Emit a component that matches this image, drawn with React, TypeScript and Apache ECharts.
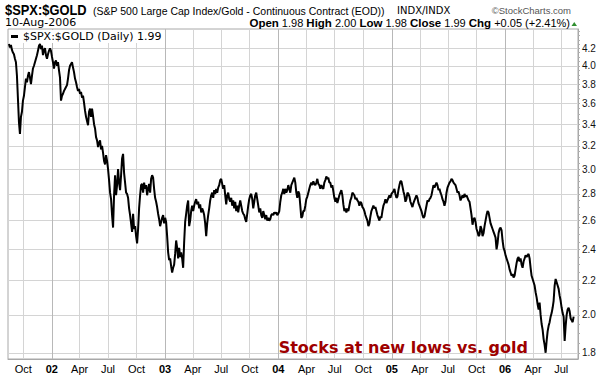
import React, { useEffect, useRef } from "react";
import * as echarts from "echarts";

const SYMBOL = "$SPX:$GOLD";
const TITLE_DESC = "(S&P 500 Large Cap Index/Gold - Continuous Contract (EOD))";
const EXCHANGE = "INDX/INDX";
const AS_OF = "10-Aug-2006";
const QUOTE_KEYS = ["Open", "High", "Low", "Close", "Chg"];
const QUOTE_VALUES = ["1.98", "2.00", "1.98", "1.99", "+0.05 (+2.41%)"];
const ANNOTATION = "Stocks at new lows vs. gold";

// Daily ratio sampled evenly from START_DATE to END_DATE
const START_DATE = "2001-08-16";
const END_DATE = "2006-08-10";
const VALUES_2001_2003 = [
  4.25,4.21,4.24,4.18,4.15,4.13,4.08,4.04,3.89,3.65,
  3.42,3.31,3.47,3.52,3.63,3.68,3.77,3.86,3.82,3.89,
  3.93,3.87,3.80,3.89,3.97,4.00,4.04,4.08,4.12,4.17,
  4.23,4.25,4.19,4.23,4.12,4.18,4.20,4.12,4.08,4.13,
  4.17,4.20,4.17,4.10,4.04,3.97,4.04,4.06,4.00,4.04,
  3.95,3.87,3.63,3.68,3.70,3.73,3.75,3.77,3.79,3.86,
  3.95,4.00,4.02,4.04,3.98,3.93,3.86,3.82,3.77,3.73,
  3.75,3.70,3.72,3.66,3.68,3.61,3.53,3.47,3.43,3.39,
  3.52,3.55,3.47,3.55,3.48,3.40,3.36,3.28,3.25,3.19,
  3.23,3.25,3.17,3.20,3.14,3.07,3.04,3.12,3.07,3.00,
  2.91,2.81,2.76,2.64,2.55,2.79,2.95,2.79,2.87,3.00,
  2.89,2.83,2.95,3.09,3.13,2.97,2.89,2.81,2.80,2.77,
  2.69,2.64,2.58,2.52,2.65,2.54,2.56,2.49,2.44,2.54,
  2.69,2.79,2.87,2.88,2.81,2.89,2.84,2.87,2.79,2.84,
  2.88,2.81,2.92,2.95,2.93,2.84,2.77,2.74,2.70,2.65,
  2.61,2.56,2.59,2.62,2.64,2.58,2.62,2.59,2.49,2.38,
  2.33,2.34,2.29,2.25,2.28,2.30,2.37,2.46,2.41,2.34,
  2.41,2.35,2.38,2.34,2.28,2.45,2.59,2.65,2.71,2.75,
  2.56,2.60,2.67,2.71,2.67,2.71,2.74,2.76,2.72,2.74,
  2.69,2.72,2.66,2.69,2.67,2.64,2.58,2.49,2.58,2.64,
  2.69,2.75,2.79,2.81,2.77,2.83,2.80,2.84,2.81,2.85,
  2.87,2.91,2.92,2.88,2.84,2.87,2.79,2.72,2.79,2.81,
  2.76,2.74,2.77,2.71,2.75,2.69,2.74,2.67,2.71,2.66,
  2.71,2.75,2.71,2.67,2.65,2.64,2.61,2.59,2.65,2.71,
  2.76,2.79,2.80,2.76,2.69,2.74,2.79,2.81,2.76,2.71,
  2.66,2.69,2.64,2.62,2.67,2.64,2.61,2.64,2.60,2.62,
  2.60,2.61,2.64,2.65,2.64,2.66,2.65,2.66,2.64,2.65,
  2.67,2.74,2.79,2.81,2.84,2.80,2.84,2.81,2.83,2.87,
  2.84,2.81,2.87,2.89,2.91,2.93,2.89,2.81,2.77,
];
const VALUES_2004_2006 = [
  2.82,2.80,2.71,2.62,2.63,2.67,2.67,2.71,2.76,2.78,
  2.81,2.84,2.87,2.89,2.87,2.90,2.88,2.87,2.89,2.92,
  2.88,2.87,2.84,2.87,2.85,2.84,2.89,2.91,2.94,2.92,
  2.93,2.89,2.89,2.85,2.87,2.82,2.77,2.74,2.77,2.73,
  2.76,2.79,2.81,2.83,2.79,2.72,2.67,2.69,2.66,2.69,
  2.67,2.71,2.75,2.77,2.81,2.80,2.79,2.76,2.77,2.75,
  2.74,2.71,2.74,2.73,2.70,2.69,2.67,2.64,2.62,2.60,
  2.56,2.58,2.63,2.67,2.69,2.71,2.69,2.70,2.67,2.64,
  2.62,2.60,2.63,2.62,2.67,2.71,2.73,2.76,2.73,2.75,
  2.77,2.79,2.77,2.80,2.81,2.82,2.84,2.80,2.77,2.78,
  2.83,2.87,2.90,2.90,2.86,2.82,2.79,2.74,2.76,2.81,
  2.80,2.78,2.74,2.72,2.70,2.73,2.75,2.77,2.79,2.77,
  2.73,2.71,2.69,2.67,2.64,2.62,2.63,2.67,2.71,2.75,
  2.74,2.76,2.77,2.79,2.83,2.87,2.85,2.87,2.89,2.87,
  2.83,2.84,2.81,2.79,2.76,2.74,2.71,2.74,2.81,2.85,
  2.87,2.89,2.90,2.92,2.91,2.89,2.88,2.87,2.84,2.81,
  2.82,2.79,2.75,2.77,2.79,2.77,2.80,2.78,2.79,2.77,
  2.75,2.74,2.69,2.64,2.57,2.61,2.62,2.59,2.54,2.52,
  2.49,2.50,2.56,2.54,2.49,2.51,2.56,2.60,2.64,2.67,
  2.66,2.62,2.58,2.56,2.54,2.52,2.50,2.48,2.40,2.44,
  2.51,2.54,2.55,2.53,2.46,2.41,2.39,2.36,2.34,2.32,
  2.30,2.27,2.25,2.23,2.24,2.22,2.23,2.27,2.31,2.34,
  2.35,2.32,2.34,2.30,2.28,2.32,2.34,2.36,2.35,2.36,
  2.37,2.34,2.28,2.23,2.21,2.19,2.17,2.13,2.10,2.06,
  2.03,2.07,2.00,1.95,1.92,1.87,1.84,1.80,1.86,1.91,
  1.94,1.96,1.99,2.01,2.04,2.08,2.17,2.21,2.19,2.17,
  2.15,2.11,2.08,2.04,2.01,1.99,1.86,1.94,2.00,2.03,
  2.04,2.02,1.98,1.97,1.96,1.99,
];

const X_MIN = "2001-08-13";
const X_MAX = "2006-08-24";
const X_TICKS = [
  "2001-10-01",
  "2002-01-01", "2002-04-01", "2002-07-01", "2002-10-01",
  "2003-01-01", "2003-04-01", "2003-07-01", "2003-10-01",
  "2004-01-01", "2004-04-01", "2004-07-01", "2004-10-01",
  "2005-01-01", "2005-04-01", "2005-07-01", "2005-10-01",
  "2006-01-01", "2006-04-01", "2006-07-01",
];
const MONTH_NAMES = ["Jan", "Feb", "Mar", "Apr", "May", "Jun", "Jul", "Aug", "Sep", "Oct", "Nov", "Dec"];
const Y_MIN = 1.769;
const Y_MAX = 4.431;
const Y_TICKS = [1.8, 2.0, 2.2, 2.4, 2.6, 2.8, 3.0, 3.2, 3.4, 3.6, 3.8, 4.0, 4.2];
const Y_MINOR_STEP = 0.05;

const ts = (s: string) => {
  const [y, m, d] = s.split("-").map(Number);
  return Date.UTC(y, m - 1, d);
};

export default function App() {
  const ref = useRef<HTMLDivElement>(null);
  useEffect(() => {
    if (!ref.current) return;
    const chart = echarts.init(ref.current, undefined, { renderer: "svg" });
    const values = [...VALUES_2001_2003, ...VALUES_2004_2006];
    const t0 = ts(START_DATE);
    const t1 = ts(END_DATE);
    const step = (t1 - t0) / (values.length - 1);
    const data = values.map((v, i) => [t0 + i * step, v]);
    const last = values[values.length - 1];
    const seriesName = `${SYMBOL} (Daily) ${last.toFixed(2)}`;
    const xTicks = X_TICKS.map(ts);
    const yearTicks = xTicks.filter((t) => new Date(t).getUTCMonth() === 0);
    const minor: number[] = [];
    for (let v = 1.8; v <= 4.4001; v += Y_MINOR_STEP) minor.push(Math.round(v * 100) / 100);

    const quoteText = QUOTE_KEYS.map((k, i) => `{b|${k}} ${QUOTE_VALUES[i]}`).join(" ");

    const option: any = {
      animation: false,
      backgroundColor: "#ffffff",
      grid: {
        left: 8, right: 26, top: 29, bottom: 21,
        show: true, borderColor: "#a8a8a8", borderWidth: 1, backgroundColor: "#fff",
      },
      legend: {
        left: 9, top: 30, padding: [1, 3, 1, 2],
        icon: "rect", itemWidth: 7, itemHeight: 3,
        backgroundColor: "#ffffff",
        textStyle: { fontFamily: "DejaVu Sans", fontSize: 11, color: "#000" },
        data: [seriesName],
      },
      xAxis: [
        {
          type: "value",
          min: ts(X_MIN), max: ts(X_MAX),
          axisLine: { show: true, lineStyle: { color: "#a8a8a8" } },
          axisTick: { show: false, customValues: xTicks },
          splitLine: { show: true, lineStyle: { color: "#d4d4d4", width: 1 } },
          axisLabel: {
            customValues: xTicks,
            margin: 4,
            color: "#000",
            fontFamily: "Liberation Sans",
            fontSize: 11,
            showMinLabel: true, showMaxLabel: true,
            formatter: (v: number) => {
              const d = new Date(v);
              const m = d.getUTCMonth();
              if (m === 0) return `{y|${String(d.getUTCFullYear()).slice(2)}}`;
              return MONTH_NAMES[m];
            },
            rich: { y: { fontWeight: "bold", fontFamily: "Liberation Sans", fontSize: 11, color: "#000" } },
          },
        },
        {
          type: "value",
          min: ts(X_MIN), max: ts(X_MAX),
          show: true,
          axisLine: { show: false },
          axisLabel: { show: false },
          axisTick: { show: false, customValues: yearTicks },
          splitLine: { show: true, lineStyle: { color: "#b8b8b8", width: 1 } },
        },
      ],
      yAxis: [
        {
          type: "log", logBase: 10, min: Y_MIN, max: Y_MAX, position: "right",
          axisLine: { show: true, lineStyle: { color: "#a8a8a8" } },
          axisTick: { show: false, customValues: Y_TICKS },
          splitLine: { show: true, lineStyle: { color: "#d4d4d4", width: 1 } },
          axisLabel: {
            customValues: Y_TICKS, margin: 4, color: "#111",
            fontFamily: "Liberation Sans", fontSize: 10,
            formatter: (v: number) => v.toFixed(1),
          },
        },
        {
          type: "log", logBase: 10, min: Y_MIN, max: Y_MAX, position: "right",
          axisLine: { show: false },
          axisTick: { show: true, customValues: minor, length: 2, inside: false, lineStyle: { color: "#b0b0b0" } },
          splitLine: { show: false },
          axisLabel: { show: false },
        },
      ],
      series: [
        {
          name: seriesName, type: "line", data, xAxisIndex: 0, yAxisIndex: 0,
          symbol: "none", showSymbol: false,
          lineStyle: { color: "#000", width: 2 },
          itemStyle: { color: "#000" },
          z: 5,
        },
      ],
      graphic: [
        { type: "text", x: 5, y: 10, scaleX: 0.86, style: { text: SYMBOL, fontFamily: "Liberation Sans", fontWeight: "bold", fontSize: 15, fill: "#000", verticalAlign: "middle" } },
        { type: "text", x: 93, y: 10.5, style: { text: TITLE_DESC, fontFamily: "Liberation Sans", fontSize: 10.5, fill: "#000", verticalAlign: "middle" } },
        { type: "text", x: 397, y: 10.5, style: { text: EXCHANGE, fontFamily: "DejaVu Sans", fontSize: 10, fill: "#000", verticalAlign: "middle" } },
        { type: "text", x: 571, y: 10, style: { text: "\u00A9StockCharts.com", fontFamily: "Liberation Sans", fontSize: 9.5, fill: "#555", align: "right", verticalAlign: "middle" } },
        { type: "text", x: 5, y: 22.5, style: { text: AS_OF, fontFamily: "DejaVu Sans", fontSize: 11, fill: "#000", verticalAlign: "middle" } },
        {
          type: "text", x: 570, y: 22.5,
          style: {
            text: quoteText, fontFamily: "Liberation Sans", fontSize: 11, fill: "#000",
            align: "right", verticalAlign: "middle",
            rich: { b: { fontWeight: "bold", fontFamily: "Liberation Sans", fontSize: 11.5, fill: "#000" } },
          },
        },
        { type: "polygon", shape: { points: [[571.5, 26], [577, 26], [574.25, 22]] }, style: { fill: "#2f8f2f" } },
        { type: "text", x: 528, y: 347.5, z: 10, style: { text: ANNOTATION, fontFamily: "DejaVu Sans", fontWeight: "bold", fontSize: 16, fill: "#9e0000", align: "right", verticalAlign: "middle" } },
      ],
    };
    chart.setOption(option);
    return () => chart.dispose();
  }, []);
  return <div ref={ref} style={{ position: "absolute", left: 0, top: 0, width: 604, height: 380 }} />;
}
